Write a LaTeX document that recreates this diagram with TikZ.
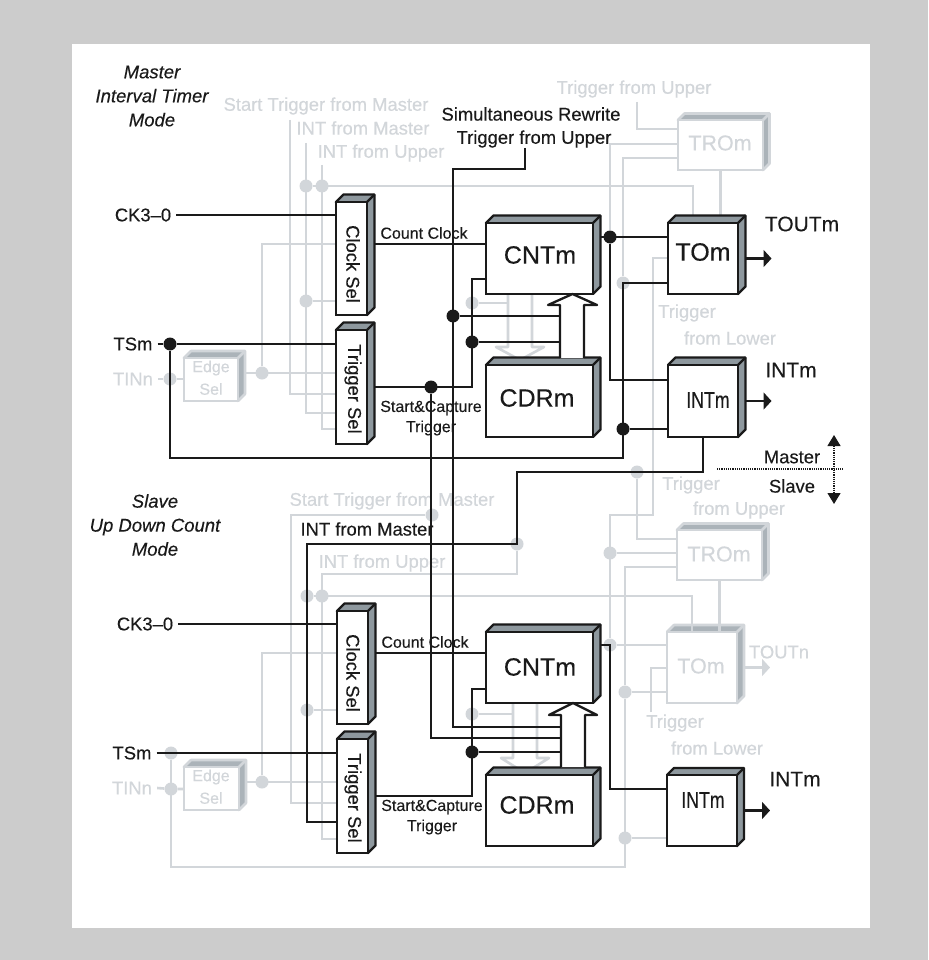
\documentclass[tikz,border=0pt]{standalone}
\usepackage{fontspec}
\setmainfont{Liberation Sans}[FakeBold=0.25]
\usetikzlibrary{arrows.meta}
\pgfdeclarelayer{back}
\pgfsetlayers{back,main}
\definecolor{inkblk}{HTML}{1A1A1A}
\definecolor{inkgry}{HTML}{D2D6DA}
\definecolor{sideblk}{HTML}{8E989E}
\definecolor{sidegry}{HTML}{ABB3B9}
\definecolor{pagegry}{HTML}{CCCCCC}
\tikzset{
  blkside/.style={draw=inkblk, fill=sideblk, line width=2.4pt, line join=round},
  gryside/.style={draw=inkgry, fill=sidegry, line width=2.6pt, line join=round},
  blkface/.style={draw=inkblk, fill=white, line width=2.4pt},
  gryface/.style={draw=inkgry, fill=white, line width=2.6pt},
  sig/.style={draw=inkblk, line width=2.3pt},
  gsig/.style={draw=inkgry, line width=2.6pt},
  sigout/.style={sig, -{Triangle[length=8pt,width=17pt]}},
  gsigout/.style={gsig, -{Triangle[length=8pt,width=17pt]}},
  bigblk/.style={sig, fill=white, line join=round},
  biggry/.style={gsig, fill=white, line join=round},
  jct/.style={circle, fill=inkblk, inner sep=0pt, minimum size=13pt},
  gjct/.style={circle, fill=inkgry, inner sep=0pt, minimum size=13pt},
  lbl/.style={text=inkblk, inner sep=5pt, font=\fontsize{18.4}{18}\selectfont},
  glbl/.style={lbl, text=inkgry},
  smalllbl/.style={lbl, font=\fontsize{16}{16}\selectfont},
  biglbl/.style={lbl, font=\fontsize{25}{25}\selectfont},
  gbiglbl/.style={biglbl, text=inkgry, font=\fontsize{21.5}{21.5}\selectfont},
  outlbl/.style={lbl, font=\fontsize{21}{21}\selectfont},
  modelbl/.style={lbl, align=center, font=\fontsize{18.5}{24}\selectfont\itshape}
}
% kind, name, front x1,y1,x2,y2, depth
\newcommand{\cubebox}[7]{%
  \path[#1side] (#3,#4) -- ({#3+#7},{#4-#7}) -- ({#5+#7},{#4-#7}) -- ({#5+#7},{#6-#7}) -- (#5,#6) -- cycle;
  \draw[#1side] (#5,#4) -- ({#5+#7},{#4-#7});
  \node[#1face, rectangle, inner sep=0pt, outer sep=0pt, minimum width=#5pt-#3pt, minimum height=#6pt-#4pt]
    (#2) at ({(#3+#5)/2},{(#4+#6)/2}) {};
  \coordinate (#2r) at ({#5+#7},{(#4+#6)/2});
}
\begin{document}
\begin{tikzpicture}[x=1pt,y=-1pt]
  \useasboundingbox (0,0) rectangle (928,960);
  \begin{pgfonlayer}{back}
    \fill[pagegry] (0,0) rectangle (928,960);
    \fill[white] (72,44) rectangle (870,928);
  \end{pgfonlayer}

  % Master boxes
  \cubebox{blk}{clkselA}{336}{202}{367}{315}{7.5}
  \cubebox{blk}{trgselA}{336}{330}{367}{444}{7.5}
  \cubebox{blk}{cntA}{486}{223}{593}{294}{7.5}
  \cubebox{blk}{cdrA}{486}{365}{593}{437}{7.5}
  \cubebox{blk}{toA}{668}{223}{738}{294}{7.5}
  \cubebox{blk}{intA}{668}{365}{738}{437}{7.5}

  % Slave boxes
  \cubebox{blk}{clkselB}{337}{611}{368}{724}{7.5}
  \cubebox{blk}{trgselB}{337}{739}{368}{853}{7.5}
  \cubebox{blk}{cntB}{486}{632}{593}{703}{7.5}
  \cubebox{blk}{cdrB}{486}{775}{593}{846}{7.5}
  \cubebox{blk}{intB}{667}{775}{737}{846}{7}

  % Black labels
  \node[modelbl] (titleA) at (152,96) {Master\\Interval Timer\\Mode};
  \node[modelbl] (titleB) at (155,525) {Slave\\Up Down Count\\Mode};
  \node[lbl] (lblCkA) at (143,215) {CK3--0};
  \node[lbl] (lblTsA) at (133,344) {TSm};
  \node[lbl] (lblCkB) at (145,624) {CK3--0};
  \node[lbl] (lblTsB) at (132,753) {TSm};
  \node[lbl, rotate=-90] (txtClkA) at (353,264) {Clock Sel};
  \node[lbl, rotate=-90] (txtTrgA) at (353,389) {Trigger Sel};
  \node[lbl, rotate=-90] (txtClkB) at (353,673) {Clock Sel};
  \node[lbl, rotate=-90] (txtTrgB) at (353,798) {Trigger Sel};
  \node[smalllbl] (lblCountA) at (424,233) {Count Clock};
  \node[smalllbl] (lblCountB) at (425,642) {Count Clock};
  \node[smalllbl] (lblStartA) at (431,408) {Start\&Capture};
  \node[smalllbl] (lblStTrA) at (431,428) {Trigger};
  \node[smalllbl] (lblStartB) at (432,807) {Start\&Capture};
  \node[smalllbl] (lblStTrB) at (432,827) {Trigger};
  \node[lbl] (lblSim) at (531,114) {Simultaneous Rewrite};
  \node[lbl] (lblSimTr) at (534,139) {Trigger from Upper};
  \node[lbl] (lblIntmB) at (367,529) {INT from Master};
  \node[biglbl] (txtCntA) at (540,255) {CNTm};
  \node[biglbl] (txtCdrA) at (537,398) {CDRm};
  \node[biglbl] (txtToA) at (703,252) {TOm};
  \node[biglbl] (txtCntB) at (540,667) {CNTm};
  \node[biglbl] (txtCdrB) at (537,805) {CDRm};
  \node[lbl, font=\fontsize{23}{23}\selectfont, xscale=.77] (txtIntA) at (708,400) {INTm};
  \node[lbl, font=\fontsize{23}{23}\selectfont, xscale=.77] (txtIntB) at (703,800) {INTm};
  \node[outlbl] (lblToutA) at (802,224) {TOUTm};
  \node[outlbl] (lblIntA) at (791,370) {INTm};
  \node[outlbl] (lblIntB) at (795,779) {INTm};
  \node[lbl] (lblMaster) at (792,457) {Master};
  \node[lbl] (lblSlave) at (792,486) {Slave};

  % Black junctions
  \node[jct] (jTsA) at (170,344) {};
  \node[jct] (jTrigA) at (431,387) {};
  \node[jct] (jSimA) at (453,316) {};
  \node[jct] (jCapA) at (472,342) {};
  \node[jct] (jOutA) at (610,237) {};
  \node[jct] (jTrA) at (623,429) {};
  \node[jct] (jCapB) at (472,752) {};
  \coordinate (shaftA) at (560,330);
  \coordinate (shaftB) at (561,740);

  \begin{pgfonlayer}{back}
    % Gray boxes
    \cubebox{gry}{edgeA}{184}{358}{238}{401}{7}
    \cubebox{gry}{troA}{678}{120}{763}{170}{6.5}
    \cubebox{gry}{edgeB}{184}{767}{239}{810}{7}
    \cubebox{gry}{troB}{677}{530}{762}{580}{6.5}
    \cubebox{gry}{toB}{667}{632}{737}{703}{7}

    % Gray labels
    \node[glbl] (lblStA) at (326,106) {Start Trigger from Master};
    \node[glbl] (lblImA) at (363,128) {INT from Master};
    \node[glbl] (lblIuA) at (381,153) {INT from Upper};
    \node[glbl] (lblTuA) at (634,89) {Trigger from Upper};
    \node[glbl] (lblTlA) at (687,313) {Trigger};
    \node[glbl] (lblFlA) at (730,338) {from Lower};
    \node[glbl] (lblTinA) at (133,379) {TINn};
    \node[glbl] (lblStB) at (392,501) {Start Trigger from Master};
    \node[glbl] (lblIuB) at (382,563) {INT from Upper};
    \node[glbl] (lblTuB) at (691,485) {Trigger};
    \node[glbl] (lblFuB) at (739,510) {from Upper};
    \node[glbl] (lblTlB) at (675,723) {Trigger};
    \node[glbl] (lblFlB) at (717,748) {from Lower};
    \node[glbl] (lblTinB) at (132,788) {TINn};
    \node[glbl] (lblToutB) at (779,652) {TOUTn};
    \node[glbl, font=\fontsize{16}{16}\selectfont] (txtEdgeA) at (211,368) {Edge};
    \node[glbl, font=\fontsize{16}{16}\selectfont] (txtSelA) at (211,389) {Sel};
    \node[glbl, font=\fontsize{16}{16}\selectfont] (txtEdgeB) at (211,777) {Edge};
    \node[glbl, font=\fontsize{16}{16}\selectfont] (txtSelB) at (211,798) {Sel};
    \node[gbiglbl] (txtTroA) at (720,143) {TROm};
    \node[gbiglbl] (txtTroB) at (719,554) {TROm};
    \node[gbiglbl] (txtToB) at (701,666) {TOm};

    % Gray junctions, Master
    \node[gjct] (gTinA) at (170,379) {};
    \node[gjct] (gEdgeA) at (262,373) {};
    \node[gjct] (gIntmA) at (306,186) {};
    \node[gjct] (gIntuA) at (322,186) {};
    \node[gjct] (gClkA) at (306,301) {};
    \node[gjct] (gCapA) at (472,303) {};
    \node[gjct] (gLowA) at (623,283) {};

    % Gray junctions, Slave
    \node[gjct] (gTsB) at (171,753) {};
    \node[gjct] (gTinB) at (171,789) {};
    \node[gjct] (gEdgeB) at (262,782) {};
    \node[gjct] (gStB) at (432,515) {};
    \node[gjct] (gIntmB) at (307,596) {};
    \node[gjct] (gIntuB) at (322,596) {};
    \node[gjct] (gClkB) at (307,710) {};
    \node[gjct] (gUpB) at (517,544) {};
    \node[gjct] (gCapB) at (472,714) {};
    \node[gjct] (gTroB) at (610,553) {};
    \node[gjct] (gOutB) at (610,645) {};
    \node[gjct] (gLowB) at (625,692) {};
    \node[gjct] (gIntB) at (625,838) {};
    \node[gjct] (gTrgB) at (637,472) {};

    % Gray connectors, Master
    \coordinate (stA) at (290,120);
    \coordinate (imA) at (306,143);
    \coordinate (iuA) at (322,165);
    \coordinate (tuA) at (637,102);
    \path[gsig] (lblTinA.east) -- (gTinA) -- (gTinA -| edgeA.west);
    \path[gsig] (edgeAr |- gEdgeA) -- (gEdgeA -| trgselA.west);
    \path[gsig] (gEdgeA) -- (262,244) -- (262,244 -| clkselA.west);
    \path[gsig] (stA) -- (290,394) -- (290,394 -| trgselA.west);
    \path[gsig] (imA) -- (306,413) -- (306,413 -| trgselA.west);
    \path[gsig] (iuA) -- (322,429) -- (322,429 -| trgselA.west);
    \path[gsig] (gClkA) -- (gClkA -| clkselA.west);
    \path[gsig] (gIntmA) -- (693,186) -- (693,186 |- toA.north);
    \path[gsig] (tuA) -- (637,129) -- (637,129 -| troA.west);
    \path[gsig] (jOutA) -- (610,144) -- (610,144 -| troA.west);
    \path[gsig] (gLowA) -- (623,158) -- (623,158 -| troA.west);
    \path[gsig] (troA.south) -- (troA.south |- toA.north);
    \path[gsig] (653,258 -| toA.west) -- (653,258) -- (653,515) -- (610,515) -- (gOutB);
    \path[gsig] (gCapA) -- (508,303);
    \path[biggry] (508,294) -- (508,347) -- (496,347) -- (520,360) -- (544,347) -- (532,347) -- (532,294);

    % Gray connectors, Slave
    \coordinate (tlB) at (651,712);
    \path[gsig] (lblTinB.east) -- (gTinB) -- (gTinB -| edgeB.west);
    \path[gsig] (gTsB) -- (171,867) -- (625,867) -- (gLowB) -- (625,567) -- (625,567 -| troB.west);
    \path[gsig] (edgeBr |- gEdgeB) -- (gEdgeB -| trgselB.west);
    \path[gsig] (gEdgeB) -- (262,653) -- (262,653 -| clkselB.west);
    \path[gsig] (gStB) -- (291,515) -- (291,803) -- (291,803 -| trgselB.west);
    \path[gsig] (gClkB) -- (gClkB -| clkselB.west);
    \path[gsig] (gIntmB) -- (692,596) -- (692,596 |- toB.north);
    \path[gsig] (gUpB) -- (517,574) -- (322,574) -- (322,839) -- (322,839 -| trgselB.west);
    \path[gsig] (gTrgB) -- (637,539) -- (637,539 -| troB.west);
    \path[gsig] (gTroB) -- (gTroB -| troB.west);
    \path[gsig] (gOutB) -- (gOutB -| toB.west);
    \path[gsig] (gLowB) -- (gLowB -| toB.west);
    \path[gsig] (gIntB) -- (gIntB -| intB.west);
    \path[gsig] (tlB) -- (651,668) -- (651,668 -| toB.west);
    \path[gsig] (troB.south) -- (troB.south |- toB.north);
    \path[gsig] (gCapB) -- (513,714);
    \path[gsigout] (toBr) -- ++(26,0);
    \path[biggry] (513,703) -- (513,758) -- (501,758) -- (525,773) -- (549,758) -- (537,758) -- (537,703);
  \end{pgfonlayer}

  % Master connectors
  \coordinate (simA) at (525,148);
  \path[sig] (lblCkA.east) -- (lblCkA.east -| clkselA.west);
  \path[sig] (lblTsA.east) -- (jTsA) -- (jTsA -| trgselA.west);
  \path[sig] (jTsA) -- (170,458) -- (623,458) -- (623,283) -- (623,283 -| toA.west);
  \path[sig] (jTrA) -- (jTrA -| intA.west);
  \path[sig] (0,244 -| clkselAr) -- (0,244 -| cntA.west);
  \path[sig] (0,387 -| trgselAr) -- (472,387) -- (472,279) -- (472,279 -| cntA.west);
  \path[sig] (simA) -- (525,169) -- (453,169) -- (453,727) -- (453,727 -| shaftB);
  \path[sig] (jSimA) -- (jSimA -| shaftA);
  \path[sig] (jCapA) -- (jCapA -| shaftA);
  \path[sig] (jTrigA) -- (431,738) -- (431,738 -| shaftB);
  \path[sig] (0,237 -| cntAr) -- (0,237 -| toA.west);
  \path[sig] (jOutA) -- (610,380) -- (610,380 -| intA.west);
  \path[sigout] (toAr) -- ++(26,0);
  \path[sigout] (intAr) -- ++(26,0);
  \path[sig] (intA.south) -- (703,472) -- (517,472) -- (517,544) -- (307,544) -- (307,822) -- (307,822 -| trgselB.west);
  \path[bigblk] (560,358) -- (560,305) -- (548,305) -- (572.5,294) -- (597,305) -- (584,305) -- (584,358);

  % Slave connectors
  \path[sig] (lblCkB.east) -- (lblCkB.east -| clkselB.west);
  \path[sig] (lblTsB.east) -- (lblTsB.east -| trgselB.west);
  \path[sig] (0,653 -| clkselBr) -- (0,653 -| cntB.west);
  \path[sig] (0,796 -| trgselBr) -- (472,796) -- (472,689) -- (472,689 -| cntB.west);
  \path[sig] (jCapB) -- (jCapB -| shaftB);
  \path[sig] (0,645 -| cntBr) -- (610,645) -- (610,789) -- (610,789 -| intB.west);
  \path[sigout] (intBr) -- ++(26,0);
  \path[bigblk] (561,767) -- (561,715) -- (549,715) -- (573,703) -- (597,715) -- (585,715) -- (585,767);

  % Master / Slave marker
  \coordinate (mrkL) at (717,469);
  \coordinate (mrkR) at (843,469);
  \coordinate (mrkT) at (834,435);
  \coordinate (mrkB) at (834,504);
  \draw[inkblk, line width=1.2pt, densely dotted] (mrkL) -- (mrkR);
  \draw[inkblk, line width=1.2pt, densely dotted, {Triangle[length=11pt,width=13pt]}-{Triangle[length=11pt,width=13pt]}] (mrkT) -- (mrkB);
\end{tikzpicture}
\end{document}
